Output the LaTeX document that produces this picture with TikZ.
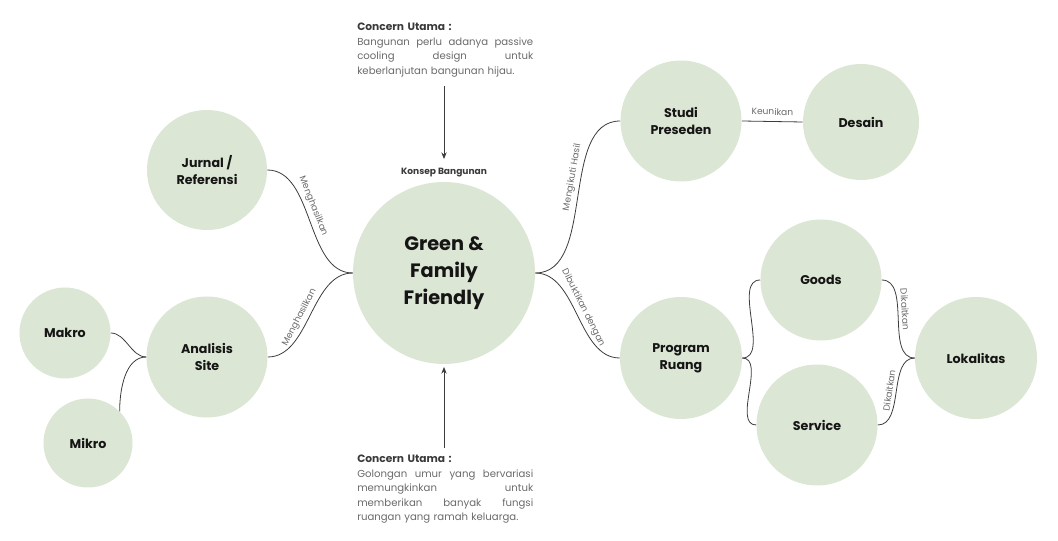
\documentclass[tikz,border=0pt]{standalone}
\usepackage{fontspec}
\setmainfont{Poppins}
\usetikzlibrary{arrows.meta}
\definecolor{ng}{HTML}{DCE6D4}
\definecolor{tx}{HTML}{151515}
\definecolor{gr}{HTML}{6A6A6A}
\definecolor{hd}{HTML}{3A3A3A}
\definecolor{ln}{HTML}{3C3C3C}
\newcommand\jline[1]{\leavevmode\hbox to 132pt{\spaceskip=0.28em plus 1fil\relax #1}}
\begin{document}
\begin{tikzpicture}[x=0.75pt,y=-0.75pt,
 circ/.style={circle, fill=ng, inner sep=0pt, minimum size=#1*0.75pt, font=\bfseries\fontsize{9.5}{12.5}\selectfont, text=tx, align=center},
 conn/.style={draw=ln, line width=0.6pt},
 elab/.style={font=\fontsize{6.8}{8}\selectfont, text=gr, inner sep=1pt, sloped, above=1.5pt},
 concern/.style={anchor=north west, inner sep=0pt, text width=132pt, align=left, font=\fontsize{7.6}{10.9}\selectfont, text=gr},
 arr/.style={draw=ln, line width=0.6pt, -{Stealth[length=5pt,width=4pt]}},
]
\useasboundingbox (0,0) rectangle (1058,541);

% nodes
\node[circ=182, font=\bfseries\fontsize{14.5}{20}\selectfont] (gf) at (444,273) {Green \&\\Family\\Friendly};
\node[circ=120] (jr) at (207,170) {Jurnal /\\Referensi};
\node[circ=121] (as) at (207,357) {Analisis\\Site};
\node[circ=91] (mk) at (65,333) {Makro};
\node[circ=89] (mi) at (88,443) {Mikro};
\node[circ=121] (sp) at (681,121) {Studi\\Preseden};
\node[circ=116] (ds) at (861,122) {Desain};
\node[circ=122] (pr) at (681,358) {Program\\Ruang};
\node[circ=121] (gd) at (821,280) {Goods};
\node[circ=121] (sv) at (817,425) {Service};
\node[circ=122] (lk) at (976,358) {Lokalitas};

\node[font=\bfseries\fontsize{6.8}{8}\selectfont, text=hd, inner sep=0pt] (kb) at (444,173) {Konsep Bangunan};

% concern texts
\node[concern] (c1) at (357,23) {{\bfseries\color{hd}\fontsize{8}{10.9}\selectfont Concern Utama :}\\
\jline{Bangunan perlu adanya passive}\\
\jline{cooling design untuk}\\
keberlanjutan bangunan hijau.};
\node[concern] (c2) at (357,455) {{\bfseries\color{hd}\fontsize{8}{10.9}\selectfont Concern Utama :}\\
\jline{Golongan umur yang bervariasi}\\
\jline{memungkinkan untuk}\\
\jline{memberikan banyak fungsi}\\
ruangan yang ramah keluarga.};

% arrows
\coordinate (a1s) at (444,86);
\coordinate (a1e) at (444,159);
\coordinate (a2s) at (444,448);
\coordinate (a2e) at (444,367);
\draw[arr] (a1s) -- (a1e);
\draw[arr] (a2s) -- (a2e);

% connectors with labels
\draw[conn] (jr.east) to[out=0,in=180,looseness=0.9] node[elab, pos=0.42] (l1) {Menghasilkan} (gf.west);
\draw[conn] (as.east) to[out=0,in=180,looseness=0.9] node[elab, pos=0.45] (l2) {Menghasilkan} (gf.west);
\draw[conn] (mk.east) to[out=0,in=180,looseness=0.9] (as.west);
\draw[conn] (mi.45) to[out=90,in=180,looseness=0.9] (as.west);
\draw[conn] (gf.east) to[out=0,in=180,looseness=0.9] node[elab, pos=0.58] (l3) {Mengikuti Hasil} (sp.west);
\draw[conn] (gf.east) to[out=0,in=180,looseness=0.9] node[elab, pos=0.47] (l4) {Dibuktikan dengan} (pr.west);
\draw[conn] (sp.east) -- node[elab, above=2pt] (l5) {Keunikan} (ds.west);
\draw[conn] (pr.east) to[out=0,in=180,looseness=0.9] (gd.west);
\draw[conn] (pr.east) to[out=0,in=180,looseness=0.9] (sv.west);
\draw[conn] (gd.east) to[out=0,in=180,looseness=0.9] node[elab, pos=0.42] (l6) {Dikaitkan} (lk.west);
\draw[conn] (sv.east) to[out=0,in=180,looseness=0.9] node[elab, pos=0.5] (l7) {Dikaitkan} (lk.west);
\end{tikzpicture}
\end{document}
